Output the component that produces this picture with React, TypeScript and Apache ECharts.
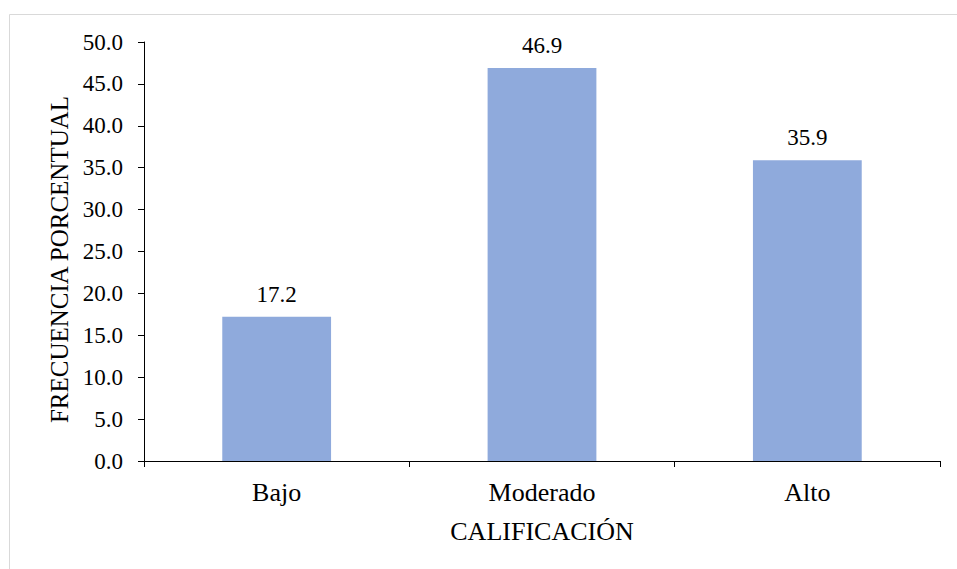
import React, { useEffect, useRef } from "react";
import * as echarts from "echarts";

const categories = ["Bajo", "Moderado", "Alto"];
const values = [17.2, 46.9, 35.9];
const yTicks = { min: 0, max: 50, interval: 5 };
const xName = "CALIFICACIÓN";
const yName = "FRECUENCIA PORCENTUAL";

const FONT = "Liberation Serif";

export default function App() {
  const ref = useRef<HTMLDivElement>(null);
  useEffect(() => {
    if (!ref.current) return;
    const chart = echarts.init(ref.current, undefined, { renderer: "svg" });
    chart.setOption({
      animation: false,
      backgroundColor: "#ffffff",
      textStyle: { fontFamily: FONT },
      graphic: [
        {
          type: "rect",
          shape: { x: 9.5, y: 14.5, width: 1000, height: 600 },
          style: { fill: "none", stroke: "#d9d9d9", lineWidth: 1 },
          silent: true,
        },
      ],
      grid: { left: 144, right: 17, top: 42, bottom: 108, containLabel: false },
      xAxis: {
        type: "category",
        data: categories,
        name: xName,
        nameLocation: "middle",
        nameGap: 57,
        nameTextStyle: { fontFamily: FONT, fontSize: 26, color: "#000" },
        axisLine: { lineStyle: { color: "#000", width: 1 } },
        axisTick: { show: true, length: 6, lineStyle: { color: "#000" } },
        axisLabel: { fontFamily: FONT, fontSize: 26, color: "#000", margin: 18 },
      },
      yAxis: {
        type: "value",
        min: yTicks.min,
        max: yTicks.max,
        interval: yTicks.interval,
        name: yName,
        nameLocation: "middle",
        nameGap: 71,
        nameTextStyle: {
          fontFamily: FONT,
          fontSize: 25,
          color: "#000",
          padding: [0, 16, 0, 0],
        },
        axisLine: { show: true, lineStyle: { color: "#000", width: 1 } },
        axisTick: { show: true, length: 6, lineStyle: { color: "#000" } },
        splitLine: { show: false },
        axisLabel: {
          fontFamily: FONT,
          fontSize: 23,
          color: "#000",
          margin: 21,
          formatter: (v: number) => v.toFixed(1),
        },
      },
      series: [
        {
          type: "bar",
          data: values,
          barWidth: "41%",
          itemStyle: { color: "#8faadc" },
          label: {
            show: true,
            position: "top",
            distance: 11,
            fontFamily: FONT,
            fontSize: 23,
            color: "#000",
            formatter: (p: any) => Number(p.value).toFixed(1),
          },
        },
      ],
    });
    return () => chart.dispose();
  }, []);
  return (
    <div
      ref={ref}
      style={{ position: "absolute", left: 0, top: 0, width: 957, height: 569 }}
    />
  );
}
